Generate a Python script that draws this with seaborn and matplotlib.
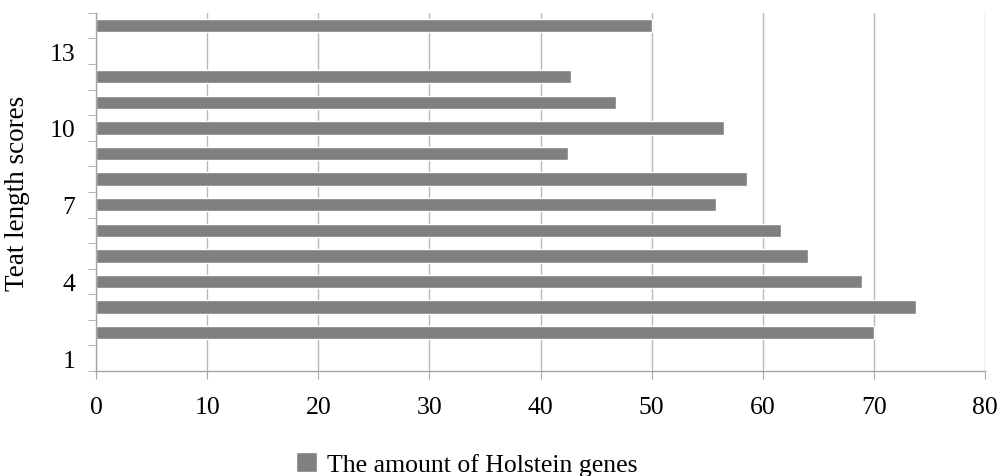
import numpy as np
import pandas as pd
import seaborn as sns
import matplotlib.pyplot as plt

# Datos (1 y 13 sin barra)
scores = [1, 2, 3, 4, 5, 6, 7, 8, 9, 10, 11, 12, 13, 14]
holstein = [np.nan, 70.0, 73.8, 68.9, 64.1, 61.6, 55.8, 58.6, 42.5, 56.5, 46.8, 42.7, np.nan, 50.0]
label_scores = [1, 4, 7, 10, 13]
x_ticks = [0, 10, 20, 30, 40, 50, 60, 70, 80]

df = pd.DataFrame({'score': scores, 'genes': holstein}).dropna()

sns.set_style('white')
plt.rcParams['font.family'] = ['Liberation Serif', 'DejaVu Serif']
plt.rcParams['text.color'] = 'black'
plt.rcParams['xtick.labelcolor'] = 'black'
plt.rcParams['ytick.labelcolor'] = 'black'
plt.rcParams['axes.labelcolor'] = 'black'

fig = plt.figure(figsize=(9.98, 4.77), dpi=100)
ax = fig.add_axes([0.0962, 0.220, 0.891, 0.751])

sns.barplot(data=df, x='genes', y='score', orient='h', native_scale=True,
            color='#808080', saturation=1, width=0.52,
            label='The amount of Holstein genes', ax=ax)

ax.set_xlim(0, 80)
ax.set_ylim(0.5, 14.5)
ax.set_xticks(x_ticks)
ax.set_yticks(label_scores)
ax.set_yticks(np.arange(0.5, 15, 1), minor=True)
ax.grid(axis='x', color='#b8b8b8', linewidth=1)
ax.set_axisbelow(True)

for s in ['top', 'right']:
    ax.spines[s].set_visible(False)
for s in ['left', 'bottom']:
    ax.spines[s].set_color('#a6a6a6')
    ax.spines[s].set_linewidth(1)

ax.tick_params(axis='y', which='major', length=0, pad=15, labelsize=18.5)
ax.tick_params(axis='y', which='minor', length=6, color='#a6a6a6', direction='out', left=True)
ax.tick_params(axis='x', length=6, color='#a6a6a6', direction='out', bottom=True, pad=12, labelsize=18.5)

ax.set_xlabel('')
ax.set_ylabel('Teat length scores', fontsize=19.5)
ax.yaxis.set_label_coords(-0.074, 0.5)

ax.legend(loc='center', bbox_to_anchor=(0.468, 0.025), bbox_transform=fig.transFigure,
          frameon=False, fontsize=18.5, handlelength=0.8, handleheight=0.8, handletextpad=0.4)

fig.savefig('out.png', dpi=100)
